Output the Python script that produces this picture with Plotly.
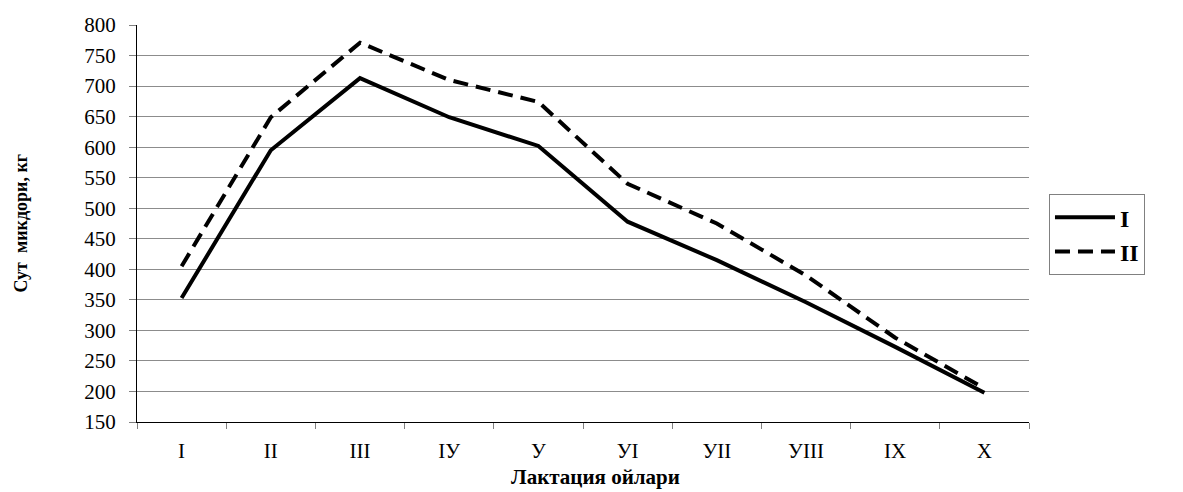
import plotly.graph_objects as go

months = ["I", "II", "III", "IУ", "У", "УI", "УII", "УIII", "IX", "X"]
series_I = [353, 595, 713, 649, 602, 478, 415, 346, 273, 198]
series_II = [405, 649, 771, 710, 674, 540, 475, 390, 288, 205]
y_ticks = [150, 200, 250, 300, 350, 400, 450, 500, 550, 600, 650, 700, 750, 800]

x_title = "Лактация ойлари"
y_title = "Сут  микдори, кг"

FONT = "Liberation Serif, Times New Roman, serif"

fig = go.Figure()
fig.add_trace(go.Scatter(x=months, y=series_I, mode="lines", name="I",
                         line=dict(color="black", width=4, dash="solid")))
fig.add_trace(go.Scatter(x=months, y=series_II, mode="lines", name="II",
                         line=dict(color="black", width=4, dash="15px,8px")))

fig.update_layout(
    width=1175, height=484,
    margin=dict(l=129, r=154, t=17, b=70, autoexpand=False),
    paper_bgcolor="white", plot_bgcolor="white",
    font=dict(family=FONT, color="black", size=21),
    showlegend=True,
    legend=dict(
        x=1.0224, y=0.574, xanchor="left", yanchor="top",
        bordercolor="#808080", borderwidth=1,
        font=dict(family=FONT, size=24, color="black", weight="bold"),
        tracegroupgap=0, itemwidth=60,
    ),
    xaxis=dict(
        type="category",
        automargin=False,
        showgrid=False,
        showline=True, linecolor="black", linewidth=1,
        ticks="outside", tickson="boundaries", ticklen=6, tickcolor="#808080",
        tickfont=dict(family=FONT, size=21),
        ticklabelstandoff=10,
        range=[-0.5, 9.5],
    ),
    yaxis=dict(
        range=[150, 800],
        automargin=False,
        tickvals=y_ticks,
        showgrid=True, gridcolor="#8c8c8c", gridwidth=1,
        showline=True, linecolor="black", linewidth=1,
        ticks="outside", ticklen=7, tickcolor="#808080",
        tickfont=dict(family=FONT, size=21),
        ticklabelstandoff=9,
        zeroline=False,
    ),
    annotations=[
        dict(text=f"<b>{x_title}</b>", xref="paper", yref="paper", x=0.5, y=0,
             xanchor="center", yanchor="middle", xshift=12, yshift=-55,
             showarrow=False, font=dict(family=FONT, size=21, color="black")),
        dict(text=f"<b>{y_title}</b>", xref="paper", yref="paper", x=0, y=0.5,
             xanchor="center", yanchor="middle", xshift=-117, textangle=-90,
             showarrow=False, font=dict(family=FONT, size=18, color="black")),
    ],
)

fig.write_html("out.html")
